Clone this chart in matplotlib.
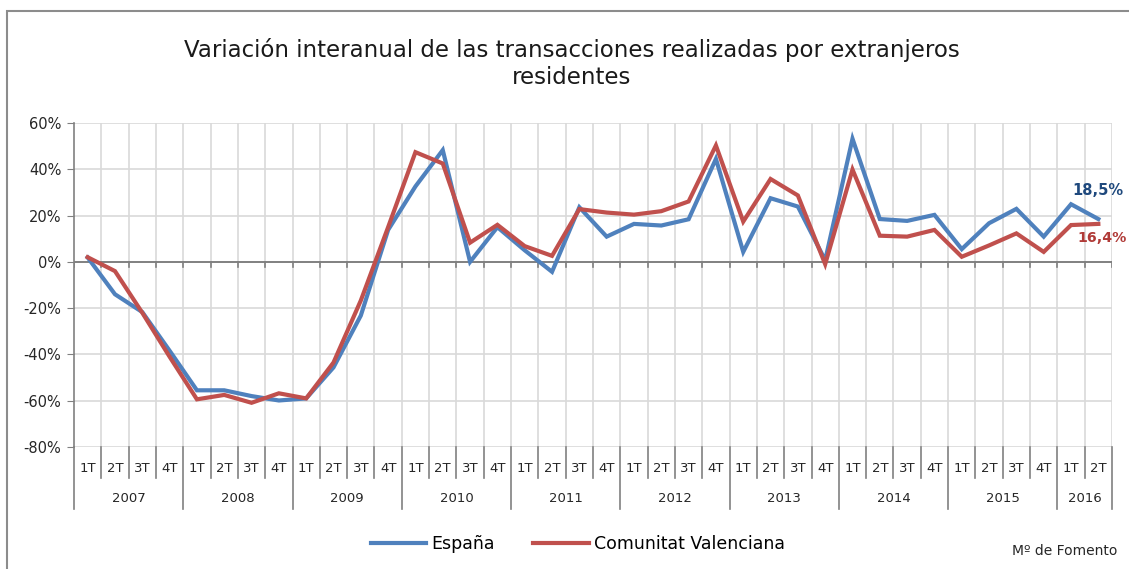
import matplotlib.pyplot as plt
from matplotlib.lines import Line2D
from matplotlib.patches import Rectangle
from matplotlib.ticker import MultipleLocator, FuncFormatter
import numpy as np

# data (variación interanual, %)
years = ['2007', '2008', '2009', '2010', '2011', '2012', '2013', '2014', '2015', '2016']
quarters = ['1T', '2T', '3T', '4T']
n_quarters_per_year = [4, 4, 4, 4, 4, 4, 4, 4, 4, 2]

espana = [1.9, -14.0, -21.7, -38.4,
          -55.5, -55.5, -58.0, -59.9,
          -59.0, -45.6, -23.2, 13.8,
          32.6, 48.3, 0.0, 15.0,
          5.0, -4.3, 23.6, 10.9,
          16.4, 15.7, 18.4, 44.5,
          4.3, 27.5, 23.9, 0.7,
          53.2, 18.5, 17.7, 20.3,
          5.5, 16.7, 22.9, 10.9,
          24.9, 18.5]
valenciana = [2.0, -4.0, -22.0, -41.0,
              -59.4, -57.5, -60.9, -56.8,
              -59.0, -43.5, -16.7, 15.0,
              47.4, 42.5, 8.3, 16.0,
              6.8, 2.6, 22.8, 21.3,
              20.4, 21.9, 26.1, 50.3,
              17.4, 35.8, 28.7, -1.0,
              39.9, 11.3, 10.9, 13.8,
              2.2, 7.1, 12.3, 4.3,
              15.9, 16.4]

blue = '#4F81BD'
red = '#C0504D'
W, H = 1129, 569

fig = plt.figure(figsize=(W / 100, H / 100), dpi=100)
ax = fig.add_axes([74 / W, 1 - 447 / H, (1112 - 74) / W, (447 - 123) / H])

n = len(espana)
x = np.arange(n) + 0.5
ax.plot(x, espana, color=blue, lw=3, solid_joinstyle='miter', zorder=4)
ax.plot(x, valenciana, color=red, lw=3, solid_joinstyle='miter', zorder=5)

ax.set_xlim(0, n)
ax.set_ylim(-80, 60)
ax.yaxis.set_major_locator(MultipleLocator(20))
ax.yaxis.set_major_formatter(FuncFormatter(lambda v, p: '%d%%' % v))
ax.tick_params(axis='y', length=5, color='#808080', labelsize=10.5,
               labelcolor='#262626', pad=4)
ax.set_xticks([])

for s in ['top', 'right', 'bottom']:
    ax.spines[s].set_visible(False)
ax.spines['left'].set_color('#808080')
ax.spines['left'].set_linewidth(1.2)

# grid
for v in range(-80, 61, 20):
    if v != 0:
        ax.axhline(v, color='#D9D9D9', lw=1.2, zorder=1)
for i in range(1, n + 1):
    ax.axvline(i, color='#D9D9D9', lw=1.2, zorder=1)
ax.axhline(0, color='#808080', lw=1.4, zorder=2)
# ticks on the zero line
for i in range(0, n + 1):
    ax.plot([i, i], [0, -2.2], color='#808080', lw=1.2, zorder=2)

# category axis below the plot
bt = ax.get_xaxis_transform()
y_q = -21 / 324
y_q_end = -31 / 324
y_y = -52 / 324
y_y_end = -62 / 324
pos = 0
for yr, nq in zip(years, n_quarters_per_year):
    for q in range(nq):
        ax.text(pos + q + 0.5, y_q, quarters[q], transform=bt, ha='center',
                va='center', fontsize=9.5, color='#262626')
        if q > 0:
            ax.add_line(Line2D([pos + q, pos + q], [0, y_q_end], transform=bt,
                               color='#808080', lw=1.2, clip_on=False))
    ax.text(pos + nq / 2, y_y, yr, transform=bt, ha='center', va='center',
            fontsize=9.5, color='#262626')
    ax.add_line(Line2D([pos, pos], [0, y_y_end], transform=bt,
                       color='#808080', lw=1.2, clip_on=False))
    pos += nq
ax.add_line(Line2D([pos, pos], [0, y_y_end], transform=bt,
                   color='#808080', lw=1.2, clip_on=False))

# end labels
ax.text(n - 1.45, 31, '18,5%', color='#1F497D', fontsize=10.5,
        fontweight='bold', ha='left', va='center', clip_on=False)
ax.text(n - 1.25, 10.2, '16,4%', color='#B03A37', fontsize=10.2,
        fontweight='bold', ha='left', va='center', clip_on=False)

# title
fig.text(572 / W, 1 - 50 / H, 'Variación interanual de las transacciones realizadas por extranjeros',
         ha='center', va='center', fontsize=16.5, color='#1a1a1a')
fig.text(572 / W, 1 - 78 / H, 'residentes', ha='center', va='center',
         fontsize=16.5, color='#1a1a1a')

# legend
handles = [Line2D([], [], color=blue, lw=3), Line2D([], [], color=red, lw=3)]
fig.legend(handles, ['España', 'Comunitat Valenciana'], loc='center',
           bbox_to_anchor=(578 / W, 1 - 544 / H), ncol=2, frameon=False,
           fontsize=12.5, handlelength=3.2, handletextpad=0.3, columnspacing=2.2)

fig.text(1117 / W, 1 - 551 / H, 'Mº de Fomento', ha='right', va='center',
         fontsize=10, color='#262626')

# outer frame
fig.add_artist(Rectangle((7 / W, -0.1), 1.2, 1 - 11 / H + 0.1,
                         transform=fig.transFigure, fill=False,
                         edgecolor='#8c8c8c', lw=1.5))

fig.savefig('out.png', dpi=100)
